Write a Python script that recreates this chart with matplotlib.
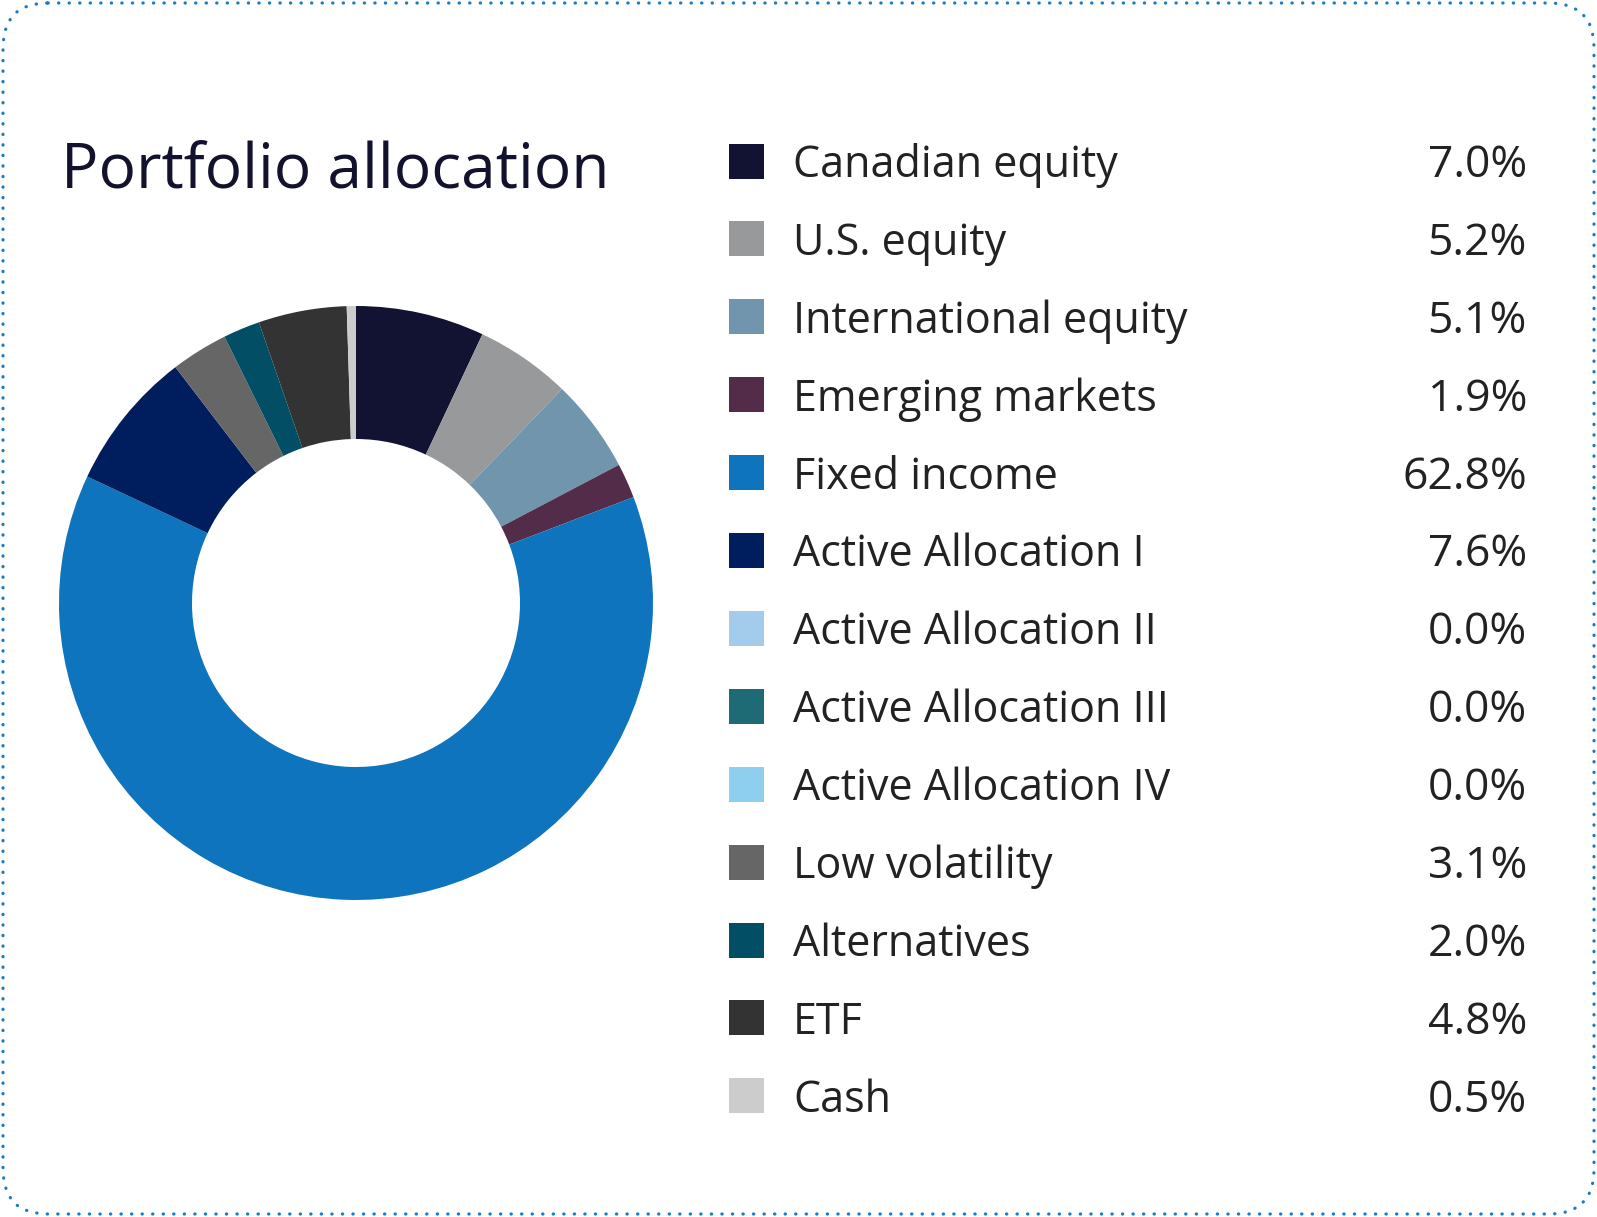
import matplotlib
matplotlib.use('Agg')
import matplotlib.pyplot as plt
from matplotlib.patches import FancyBboxPatch, Rectangle

plt.rcParams['font.family'] = ['Open Sans', 'DejaVu Sans']

# data
categories = ['Canadian equity', 'U.S. equity', 'International equity', 'Emerging markets',
              'Fixed income', 'Active Allocation I', 'Active Allocation II', 'Active Allocation III',
              'Active Allocation IV', 'Low volatility', 'Alternatives', 'ETF', 'Cash']
values = [7.0, 5.2, 5.1, 1.9, 62.8, 7.6, 0.0, 0.0, 0.0, 3.1, 2.0, 4.8, 0.5]
colors = ['#121232', '#98999b', '#7095ad', '#532c4a', '#0d74bd', '#001e5e', '#a3cbec',
          '#1f6b75', '#8ecfef', '#666666', '#024e64', '#333333', '#cccccc']

W, H = 1597, 1217
fig = plt.figure(figsize=(W / 100, H / 100), dpi=100)

# background layer in pixel coords
bg = fig.add_axes([0, 0, 1, 1])
bg.set_xlim(0, W)
bg.set_ylim(H, 0)
bg.axis('off')

border = FancyBboxPatch((3, 3), W - 6, H - 6, boxstyle='round,pad=0,rounding_size=45',
                        facecolor='white', edgecolor='#1a7bc4', linewidth=2.3,
                        linestyle=(0, (0.1, 3.2)), capstyle='round')
bg.add_patch(border)

bg.text(61, 187, 'Portfolio allocation', fontsize=44.8, color='#12122f', va='baseline', ha='left')

# legend rows
y0, dy = 161, 77.9
for i, (name, v, c) in enumerate(zip(categories, values, colors)):
    yc = y0 + i * dy
    bg.add_patch(Rectangle((729, yc - 17.5), 35, 35, facecolor=c, edgecolor='none'))
    bg.text(793, yc + 16, name, fontsize=31, color='#222222', va='baseline', ha='left')
    bg.text(1527, yc + 16, '{:.1f}%'.format(v), fontsize=32, color='#222222',
            va='baseline', ha='right')

# donut
cx, cy, R = 356, 603, 297
ax = fig.add_axes([(cx - R) / W, (H - cy - R) / H, 2 * R / W, 2 * R / H])
ax.pie(values, colors=colors, startangle=90, counterclock=False, radius=1,
       wedgeprops=dict(width=1 - 164 / 297, linewidth=0))
ax.set_xlim(-1, 1)
ax.set_ylim(-1, 1)
ax.set_aspect('equal')
ax.axis('off')

fig.savefig('out.png', dpi=100)
